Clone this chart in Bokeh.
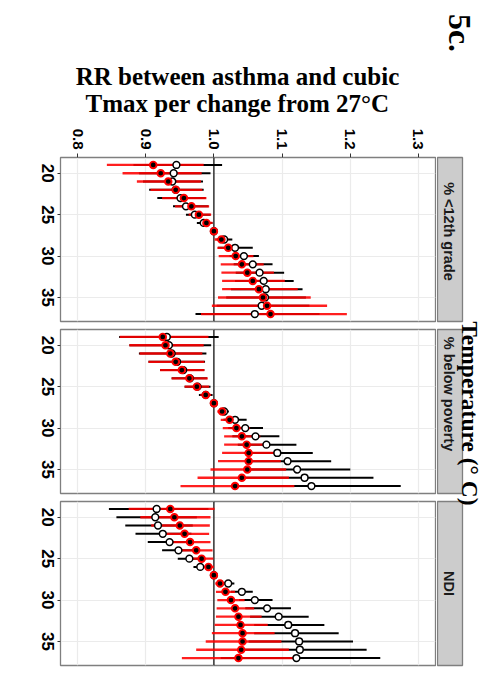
import math
from bokeh.plotting import figure
from bokeh.models import Range1d, FixedTicker, Span, Grid, ColumnDataSource, NumeralTickFormatter
from bokeh.layouts import column, row
from bokeh.embed import file_html
from bokeh.resources import INLINE
from bokeh.core.properties import value

# ---------------- data ----------------
temperature = [19, 20, 21, 22, 23, 24, 25, 26, 27, 28, 29, 30, 31, 32, 33, 34, 35, 36, 37]
facets = ["% <12th grade", "% below poverty", "NDI"]

# % <12th grade
red_est_grade = [0.911, 0.922, 0.933, 0.944, 0.956, 0.967, 0.978, 0.989, 1.000, 1.011, 1.021, 1.032, 1.041, 1.049, 1.057, 1.066, 1.072, 1.078, 1.083]
red_lo_grade = [0.843, 0.866, 0.887, 0.907, 0.924, 0.943, 0.963, 0.980, 1.000, 1.001, 1.005, 1.007, 1.010, 1.011, 1.012, 1.012, 1.006, 0.997, 0.981]
red_hi_grade = [0.985, 0.982, 0.981, 0.983, 0.989, 0.993, 0.996, 0.998, 1.000, 1.021, 1.037, 1.058, 1.073, 1.088, 1.104, 1.123, 1.142, 1.166, 1.195]
blk_est_grade = [0.945, 0.941, 0.939, 0.944, 0.951, 0.959, 0.972, 0.985, 1.000, 1.015, 1.031, 1.044, 1.057, 1.067, 1.073, 1.076, 1.075, 1.070, 1.060]
blk_lo_grade = [0.882, 0.890, 0.896, 0.905, 0.917, 0.940, 0.959, 0.975, 1.000, 1.004, 1.006, 1.023, 1.029, 1.032, 1.031, 1.025, 1.018, 1.004, 0.973]
blk_hi_grade = [1.012, 0.995, 0.984, 0.985, 0.988, 0.992, 0.995, 0.998, 1.000, 1.027, 1.057, 1.066, 1.086, 1.103, 1.117, 1.130, 1.135, 1.140, 1.155]

# % below poverty
red_est_pov = [0.925, 0.929, 0.936, 0.944, 0.953, 0.964, 0.975, 0.988, 1.000, 1.012, 1.023, 1.033, 1.041, 1.048, 1.051, 1.051, 1.049, 1.041, 1.031]
red_lo_pov = [0.862, 0.876, 0.891, 0.904, 0.921, 0.938, 0.957, 0.980, 1.000, 1.005, 1.010, 1.013, 1.015, 1.015, 1.012, 1.006, 0.995, 0.976, 0.951]
red_hi_pov = [0.992, 0.985, 0.983, 0.986, 0.986, 0.991, 0.993, 0.996, 1.000, 1.019, 1.036, 1.053, 1.068, 1.082, 1.091, 1.098, 1.106, 1.110, 1.118]
blk_est_pov = [0.931, 0.934, 0.938, 0.946, 0.955, 0.965, 0.976, 0.988, 1.000, 1.015, 1.031, 1.046, 1.061, 1.077, 1.093, 1.108, 1.122, 1.133, 1.143]
blk_lo_pov = [0.861, 0.876, 0.890, 0.904, 0.921, 0.938, 0.957, 0.978, 1.000, 1.008, 1.014, 1.021, 1.027, 1.035, 1.044, 1.048, 1.049, 1.040, 1.026]
blk_hi_pov = [1.007, 0.996, 0.989, 0.987, 0.986, 0.990, 0.995, 0.998, 1.000, 1.022, 1.048, 1.072, 1.096, 1.121, 1.145, 1.172, 1.200, 1.234, 1.274]

# NDI
red_est_ndi = [0.936, 0.942, 0.950, 0.957, 0.965, 0.974, 0.982, 0.992, 1.000, 1.009, 1.017, 1.025, 1.031, 1.036, 1.039, 1.042, 1.042, 1.040, 1.036]
red_lo_ndi = [0.875, 0.892, 0.908, 0.922, 0.936, 0.950, 0.965, 0.984, 1.000, 1.002, 1.003, 1.005, 1.004, 1.003, 1.001, 0.997, 0.988, 0.974, 0.953]
red_hi_ndi = [1.001, 0.995, 0.994, 0.993, 0.995, 0.998, 0.999, 1.000, 1.000, 1.016, 1.031, 1.045, 1.059, 1.070, 1.079, 1.089, 1.099, 1.110, 1.126]
blk_est_ndi = [0.916, 0.914, 0.918, 0.925, 0.935, 0.948, 0.964, 0.980, 1.000, 1.021, 1.041, 1.060, 1.078, 1.095, 1.109, 1.119, 1.125, 1.126, 1.121]
blk_lo_ndi = [0.846, 0.857, 0.870, 0.885, 0.903, 0.924, 0.947, 0.970, 1.000, 1.012, 1.025, 1.037, 1.046, 1.053, 1.059, 1.059, 1.051, 1.036, 1.010]
blk_hi_ndi = [0.992, 0.975, 0.969, 0.967, 0.968, 0.973, 0.981, 0.990, 1.000, 1.030, 1.057, 1.086, 1.113, 1.139, 1.162, 1.183, 1.204, 1.224, 1.244]

rr_ticks = [0.8, 0.9, 1.0, 1.1, 1.2, 1.3]
temp_ticks = [20, 25, 30, 35]
temp_tick_labels = ["20", "25", "30", "35"]
reference_rr = 1.0
title_lines = ["RR between asthma and cubic", "Tmax per change from 27\u00b0C"]
x_title = "Temperature (\u00b0 C)"
figure_tag = "5c."

panels = [
    (red_est_grade, red_lo_grade, red_hi_grade, blk_est_grade, blk_lo_grade, blk_hi_grade),
    (red_est_pov, red_lo_pov, red_hi_pov, blk_est_pov, blk_lo_pov, blk_hi_pov),
    (red_est_ndi, red_lo_ndi, red_hi_ndi, blk_est_ndi, blk_lo_ndi, blk_hi_ndi),
]

# ---------------- style / layout ----------------
RED = "#ff0000"
SANS = value("Liberation Sans")
SERIF = value("Liberation Serif")
FRAME_H = 164
row_borders = [(35, 4), (4, 4), (4, 11)]
panel_tops = [157, 329, 501]          # page y of each panel frame
strip_text_y = [231, 393.5, 583]      # page y of strip label centres
CW = -math.pi / 2

x_range = Range1d(0.775, 1.325)


def blank(width, height, xr, yr, top=0, bottom=0, left=0, right=0):
    f = figure(width=width, height=height, x_range=xr, y_range=yr,
               output_backend="svg", toolbar_location=None,
               x_axis_location=None, y_axis_location=None,
               min_border_top=top, min_border_bottom=bottom,
               min_border_left=left, min_border_right=right,
               outline_line_color=None, background_fill_color="white",
               border_fill_color="white")
    f.grid.visible = False
    return f


row_layouts = []
for i, (data, (top, bottom)) in enumerate(zip(panels, row_borders)):
    r_est, r_lo, r_hi, b_est, b_lo, b_hi = data
    h = top + FRAME_H + bottom
    yr = Range1d(37.9, 18.1)

    p = figure(width=380, height=h, x_range=x_range, y_range=yr,
               output_backend="svg", toolbar_location=None,
               x_axis_location="above" if i == 0 else None, y_axis_location="left",
               min_border_top=top, min_border_bottom=bottom,
               min_border_left=4, min_border_right=1,
               outline_line_color="#7f7f7f", outline_line_width=1.3,
               background_fill_color="white", border_fill_color="white")
    p.grid.visible = False
    p.add_layout(Grid(dimension=0, ticker=FixedTicker(ticks=rr_ticks),
                      grid_line_color="#ebebeb", grid_line_width=1.2))
    p.add_layout(Grid(dimension=1, ticker=FixedTicker(ticks=temp_ticks),
                      grid_line_color="#ebebeb", grid_line_width=1.2))
    p.add_layout(Span(location=reference_rr, dimension="height", line_color="black",
                      line_width=1.2, level="underlay"))

    src_b = ColumnDataSource(dict(t=temperature, est=b_est, lo=b_lo, hi=b_hi))
    src_r = ColumnDataSource(dict(t=temperature, est=r_est, lo=r_lo, hi=r_hi))
    p.segment(x0="lo", y0="t", x1="hi", y1="t", source=src_b, line_color="black", line_width=2)
    p.segment(x0="lo", y0="t", x1="hi", y1="t", source=src_r, line_color=RED,
              line_width=2.3, line_alpha=0.88)
    p.scatter(x="est", y="t", source=src_b, size=6.8, fill_color="white",
              line_color="black", line_width=1.5)
    p.scatter(x="est", y="t", source=src_r, size=6.6, fill_color="black",
              line_color=RED, line_width=1.9)

    ya = p.yaxis[0]
    ya.ticker = FixedTicker(ticks=temp_ticks)
    ya.major_label_overrides = {t: "" for t in temp_ticks}
    ya.major_label_text_font_size = "0px"
    ya.major_label_standoff = 0
    ya.axis_line_color = None
    ya.major_tick_out = 3
    ya.major_tick_in = 0
    ya.minor_tick_out = 0
    ya.minor_tick_in = 0
    ya.major_tick_line_color = "#333333"

    if i == 0:
        xa = p.xaxis[0]
        xa.ticker = FixedTicker(ticks=rr_ticks)
        xa.formatter = NumeralTickFormatter(format="0.0")
        xa.major_label_orientation = CW
        xa.major_label_text_font = "Liberation Sans"
        xa.major_label_text_font_style = "bold"
        xa.major_label_text_font_size = "15px"
        xa.major_label_text_color = "black"
        xa.major_label_standoff = 4
        xa.axis_line_color = None
        xa.major_tick_out = 4
        xa.major_tick_in = 0
        xa.minor_tick_out = 0
        xa.minor_tick_in = 0
        xa.major_tick_line_color = "#333333"

    # temperature tick labels (rotated clockwise, left of panel)
    lf = blank(56, h, Range1d(0, 56), yr, top=top, bottom=bottom)
    lf.text(x=47, y="y", text="txt", source=ColumnDataSource(dict(y=temp_ticks, txt=temp_tick_labels)),
            angle=CW, text_align="center", text_baseline="middle",
            text_font=SANS, text_font_style="bold", text_font_size="17px", text_color="black")

    row_layouts.append(row(lf, p))

# right-hand column: facet strips + axis title (page pixel coordinates)
rf = blank(47, 554, Range1d(436, 483), Range1d(676, 122))
rf.quad(left=437, right=462, top=panel_tops, bottom=[t + FRAME_H for t in panel_tops],
        fill_color="#cccccc", line_color="#7f7f7f", line_width=1.3)
rf.text(x=448.5, y=strip_text_y, text=facets, angle=CW, text_align="center",
        text_baseline="middle", text_font=SANS, text_font_style="bold",
        text_font_size="14.5px", text_color="#1a1a1a")
rf.text(x=[469], y=[413], text=[x_title], angle=CW, text_align="center",
        text_baseline="middle", text_font=SERIF, text_font_style="bold",
        text_font_size="23.5px", text_color="black")

# title area
tf = blank(483, 122, Range1d(0, 483), Range1d(122, 0))
tf.text(x=[237, 237], y=[76, 102.5], text=title_lines, text_align="center",
        text_baseline="alphabetic", text_font=SERIF, text_font_style="bold",
        text_font_size="25px", text_color="black")
tf.text(x=[459], y=[32.5], text=[figure_tag], angle=CW, text_align="center",
        text_baseline="middle", text_font=SERIF, text_font_style="bold",
        text_font_size="32px", text_color="black")

layout = column(tf, row(column(*row_layouts), rf))

open("out.html", "w").write(file_html(layout, INLINE))
